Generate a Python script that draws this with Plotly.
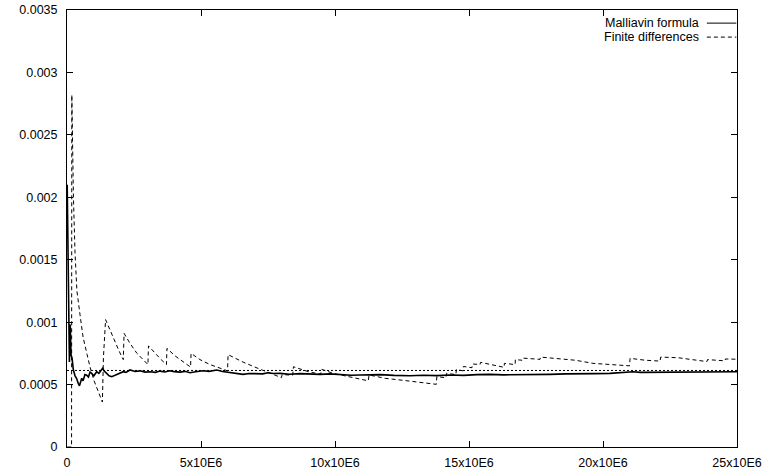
import plotly.graph_objects as go

# ---- data (x in units of 10^6 samples) ----
malliavin_x = [0.007, 0.03, 0.05, 0.075, 0.09, 0.12, 0.15, 0.19, 0.235, 0.30, 0.355, 0.42, 0.465,
               0.55, 0.60, 0.67, 0.735, 0.80, 0.86, 0.92, 1.00, 1.11, 1.19, 1.33, 1.38, 1.48, 1.57,
               1.67, 1.75, 1.85, 1.98, 2.10, 2.20, 2.35, 2.54, 2.72, 2.91,
               3.10, 3.30, 3.47, 3.65, 3.84, 4.00, 4.22, 4.40, 4.59, 4.80, 5.07, 5.30, 5.59, 5.80,
               6.08, 6.30, 6.57, 6.80, 7.08, 7.30, 7.50, 7.70, 7.95, 8.30, 8.69, 9.00, 9.44, 9.80,
               10.19, 10.60, 10.93, 11.30, 11.68, 12.20, 12.80, 13.30, 13.80, 14.29, 14.80, 15.30,
               15.78, 16.30, 16.90, 17.40, 18.02, 18.60, 19.14, 19.70, 20.26, 20.70, 21.12, 21.40,
               21.75, 22.10, 22.39, 23.00, 23.62, 24.30, 25.00]
malliavin_y = [0.0021, 0.0016, 0.00102, 0.00082, 0.00068, 0.00098, 0.00074, 0.00071, 0.00062, 0.00057,
               0.00055, 0.00051, 0.00049, 0.00055, 0.00053, 0.00058, 0.000575, 0.00056, 0.0006, 0.00059,
               0.00057, 0.000603, 0.00059, 0.00063, 0.00061, 0.00059, 0.00057, 0.000563, 0.00057,
               0.000577, 0.00059, 0.000603, 0.000598, 0.000617, 0.000605, 0.00061, 0.0006,
               0.000603, 0.000598, 0.000608, 0.000601, 0.000611, 0.000604, 0.0006, 0.000606, 0.000595,
               0.000603, 0.000611, 0.000606, 0.000617, 0.000605, 0.000595, 0.000588, 0.000582, 0.000589,
               0.00059, 0.000586, 0.000595, 0.000589, 0.00059, 0.000583, 0.000588, 0.000584, 0.000582,
               0.000586, 0.00058, 0.000575, 0.000577, 0.000581, 0.00058, 0.000574, 0.000571, 0.000575,
               0.000572, 0.000577, 0.000574, 0.00058, 0.000582, 0.000578, 0.000578, 0.000583, 0.000582,
               0.000586, 0.000585, 0.000588, 0.00059, 0.000596, 0.000603, 0.000598, 0.000598, 0.000602,
               0.000603, 0.000599, 0.0006, 0.000602, 0.000603]

fd_x = [0.01, 0.17, 0.18, 0.205, 0.24, 0.30, 0.37, 0.485, 0.60, 0.75, 0.86, 1.01, 1.16, 1.32, 1.36, 1.44,
        1.60, 1.79, 1.94, 2.10, 2.13, 2.35, 2.61, 2.84, 3.02, 3.04, 3.28, 3.51, 3.71, 3.73, 4.03, 4.33,
        4.61, 4.63, 4.96, 5.34, 5.71, 5.99, 6.01, 6.57, 7.01, 7.46, 8.00, 8.03, 8.42, 8.45, 9.05, 9.47,
        9.50, 9.93, 10.60, 11.24, 11.27, 11.87, 12.50, 13.20, 13.78, 13.80, 14.14, 14.16, 14.51, 14.53,
        14.78, 14.79, 15.11, 15.13, 15.41, 15.43, 16.31, 16.32, 16.72, 16.73, 16.98, 17.00, 17.65, 17.67,
        18.40, 18.96, 19.63, 20.07, 20.49, 20.99, 21.01, 21.57, 22.13, 22.15, 22.80, 23.62, 23.88, 23.90,
        24.55, 24.57, 25.00]
fd_y = [0.0, 0.0, 0.00282, 0.0024, 0.002, 0.00155, 0.00125, 0.00106, 0.00088, 0.00074, 0.00064, 0.00053,
        0.00044, 0.00036, 0.00072, 0.00102, 0.00094, 0.00084, 0.00077, 0.0007, 0.00091, 0.00083, 0.00075,
        0.0007, 0.00066, 0.00081, 0.00075, 0.0007, 0.00066, 0.00079, 0.00073, 0.00068, 0.00064, 0.00075,
        0.0007, 0.00066, 0.00063, 0.00061, 0.00074, 0.00068, 0.00064, 0.0006, 0.000555, 0.00058, 0.000575,
        0.000643, 0.0006, 0.000585, 0.000622, 0.00059, 0.00056, 0.00053, 0.000577, 0.00055, 0.000535,
        0.000518, 0.000502, 0.000563, 0.000555, 0.00059, 0.00058, 0.00062, 0.00061, 0.000645, 0.000635,
        0.000665, 0.00066, 0.000678, 0.000638, 0.00067, 0.00066, 0.0007, 0.000695, 0.000712, 0.000702,
        0.00072, 0.000705, 0.000695, 0.00067, 0.000662, 0.000655, 0.00065, 0.00071, 0.000695, 0.000688,
        0.00072, 0.000715, 0.00069, 0.000684, 0.0007, 0.00069, 0.000705, 0.000703]

exact_x = [0.0, 25.0]
exact_y = [0.000613, 0.000613]

xtick_vals = [0, 5, 10, 15, 20, 25]
xtick_text = ["0", "5x10E6", "10x10E6", "15x10E6", "20x10E6", "25x10E6"]
ytick_vals = [0, 0.0005, 0.001, 0.0015, 0.002, 0.0025, 0.003, 0.0035]
ytick_text = ["0", "0.0005", "0.001", "0.0015", "0.002", "0.0025", "0.003", "0.0035"]
legend_names = ["Malliavin formula", "Finite differences"]

FONT = "Liberation Sans, Arial, Helvetica, sans-serif"

fig = go.Figure()
fig.add_trace(go.Scatter(x=exact_x, y=exact_y, mode="lines", showlegend=False,
                         line=dict(color="black", width=1, dash="2px,2px")))
fig.add_trace(go.Scatter(x=fd_x, y=fd_y, mode="lines", name=legend_names[1], showlegend=False,
                         line=dict(color="black", width=1, dash="4px,3px")))
fig.add_trace(go.Scatter(x=malliavin_x, y=malliavin_y, mode="lines", name=legend_names[0],
                         showlegend=False, line=dict(color="black", width=1.6)))

axis_common = dict(showline=True, linecolor="black", linewidth=1, mirror="allticks",
                   ticks="inside", ticklen=6, tickcolor="black", tickwidth=1,
                   showgrid=False, zeroline=False, automargin=False,
                   tickfont=dict(family=FONT, size=12.5, color="black"))

fig.update_xaxes(range=[0, 25], tickmode="array", tickvals=xtick_vals, ticktext=xtick_text,
                 ticklabelstandoff=4, **axis_common)
fig.update_yaxes(range=[0, 0.0035], tickmode="array", tickvals=ytick_vals, ticktext=ytick_text,
                 ticklabelstandoff=6, **axis_common)

# gnuplot-style key: text right-aligned, sample line to its right
rows = [(0.970, "solid"), (0.938, "4px,3px")]
for (ypos, dash), name in zip(rows, legend_names):
    fig.add_annotation(xref="paper", yref="paper", x=0.947, y=ypos, text=name, showarrow=False,
                       xanchor="right", yanchor="middle",
                       font=dict(family=FONT, size=12.5, color="black"))
    fig.add_shape(type="line", xref="paper", yref="paper", x0=0.955, x1=0.999, y0=ypos, y1=ypos,
                  line=dict(color="black", width=1, dash=dash))

fig.update_layout(width=769, height=473, margin=dict(l=67, r=32, t=10, b=26, autoexpand=False),
                  plot_bgcolor="white", paper_bgcolor="white",
                  font=dict(family=FONT, size=12.5, color="black"))

fig.write_html("out.html")
